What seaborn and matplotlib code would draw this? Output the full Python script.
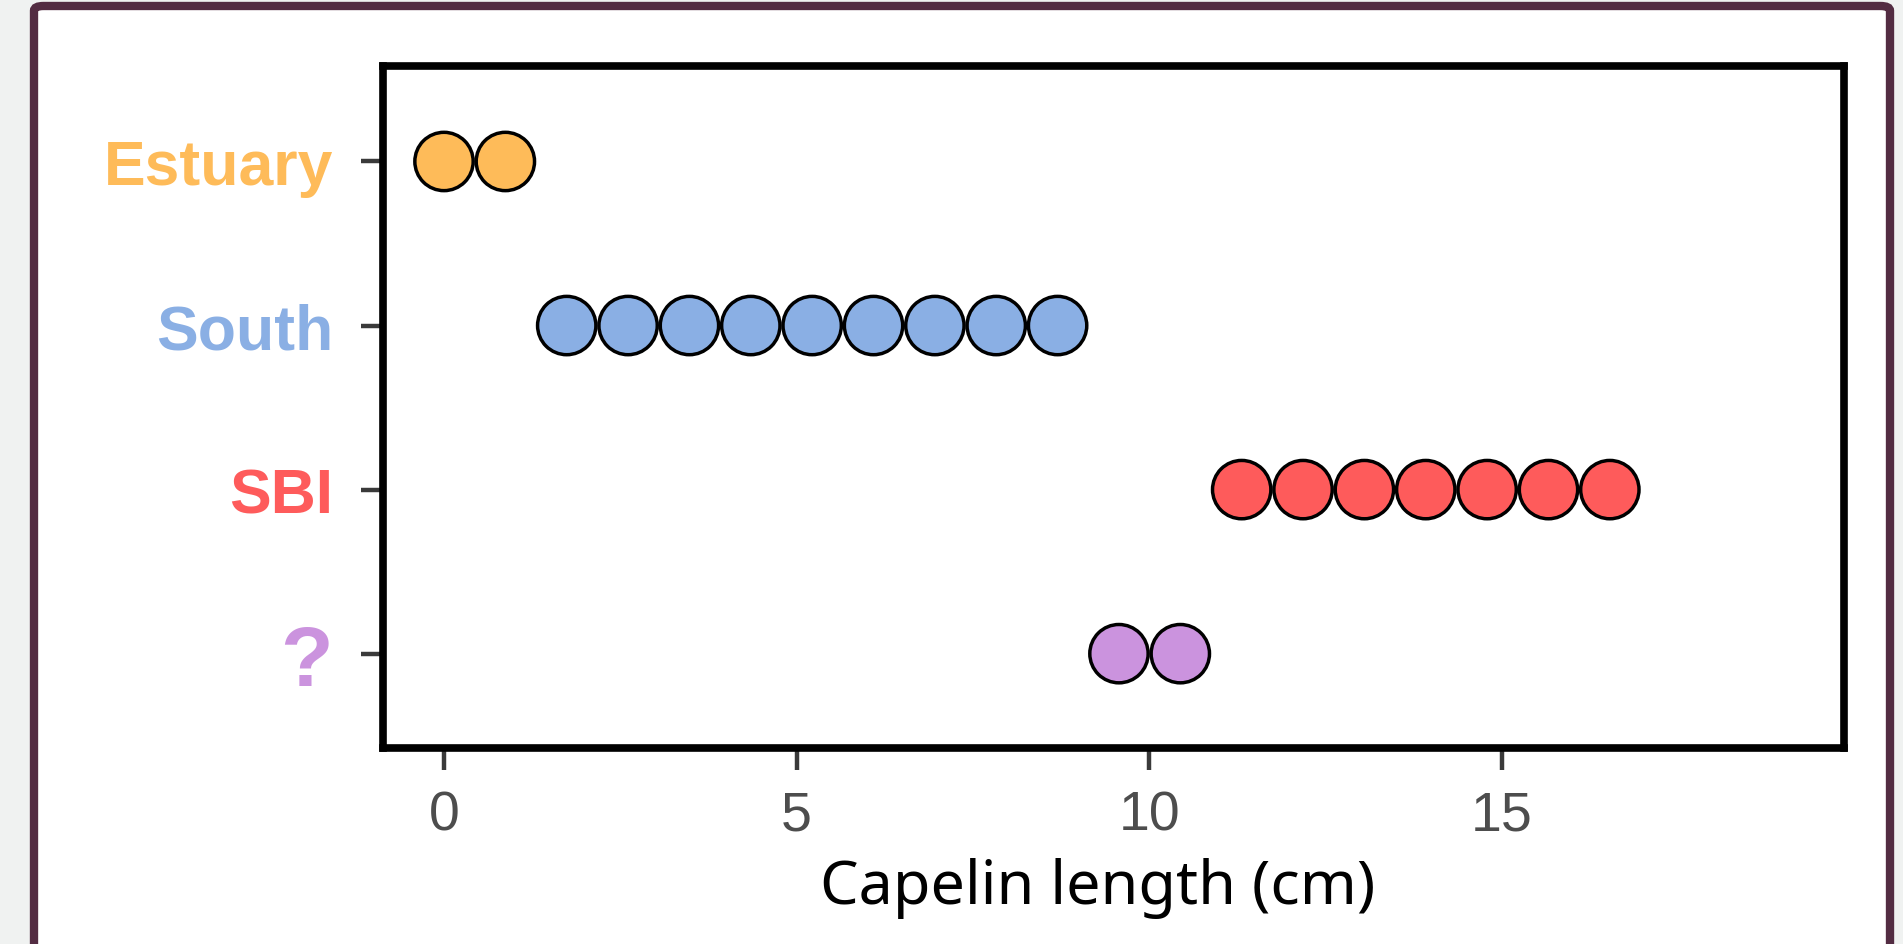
import matplotlib
matplotlib.use("Agg")
import matplotlib.pyplot as plt
import matplotlib.transforms as mtransforms
import seaborn as sns
import pandas as pd
from matplotlib.patches import FancyBboxPatch

# ---- data ----
sites = ["Estuary", "South", "SBI", "?"]
estuary_len = [0.0, 0.87]
south_len = [1.74, 2.61, 3.48, 4.35, 5.22, 6.09, 6.96, 7.83, 8.70]
sbi_len = [11.31, 12.18, 13.05, 13.92, 14.79, 15.66, 16.53]
unknown_len = [9.57, 10.44]
site_colors = ["#FEBB59", "#8AAFE4", "#FE5B5B", "#CB93DE"]
x_ticks = [0, 5, 10, 15]
x_label = "Capelin length (cm)"

rows = []
for s, vals in zip(sites, [estuary_len, south_len, sbi_len, unknown_len]):
    for v in vals:
        rows.append({"site": s, "length": v})
df = pd.DataFrame(rows)

sns.set_theme(style="white")
W, H = 1903, 945
fig = plt.figure(figsize=(W / 100, H / 100), dpi=100)
fig.patch.set_facecolor("#F0F2F1")

# outer card frame
card = FancyBboxPatch((34 / W, -0.05), (1890 - 34) / W, (945 - 7) / H + 0.05,
                      boxstyle="round,pad=0,rounding_size=0.005",
                      transform=fig.transFigure, facecolor="white",
                      edgecolor="#532C42", linewidth=6, zorder=-10)
fig.patches.append(card)

left, right, top, bottom = 383 / W, 1844 / W, 1 - 66.5 / H, 1 - 749 / H
ax = fig.add_axes([left, bottom, right - left, top - bottom])
ax.set_facecolor("white")
ax.set_zorder(5)

sns.stripplot(data=df, x="length", y="site", hue="site", order=sites,
              hue_order=sites, palette=site_colors, jitter=False, size=42,
              linewidth=2.5, edgecolor="black", legend=False, ax=ax, zorder=3)

ax.set_xlim(-0.865, 19.85)
ax.set_ylim(3.575, -0.585)
ax.set_xticks(x_ticks)
ax.set_xticklabels([str(t) for t in x_ticks], family=["Liberation Sans", "DejaVu Sans"],
                   fontsize=40, color="#4D4D4D")
ax.set_yticks(range(len(sites)))
ax.set_yticklabels(sites, family=["Liberation Sans", "DejaVu Sans"], fontweight="bold", fontsize=45)
for lab, c in zip(ax.get_yticklabels(), site_colors):
    lab.set_color(c)
q = ax.get_yticklabels()[3]
q.set_fontsize(62)
q.set_transform(q.get_transform() + mtransforms.ScaledTranslation(0, -7 / 72, fig.dpi_scale_trans))

ax.set_xlabel(x_label, family=["Noto Sans", "DejaVu Sans"], fontsize=44, color="black")
ax.xaxis.set_label_coords(0.489, -0.160)
ax.set_ylabel("")

ax.tick_params(axis="both", which="both", length=16, width=3.2, color="#3A3A3A",
               left=True, bottom=True)
ax.tick_params(axis="y", pad=20)
ax.tick_params(axis="x", pad=14)

for sp in ax.spines.values():
    sp.set_visible(True)
    sp.set_color("black")
    sp.set_linewidth(5.5)

fig.savefig("out.png", dpi=100, facecolor=fig.get_facecolor())
